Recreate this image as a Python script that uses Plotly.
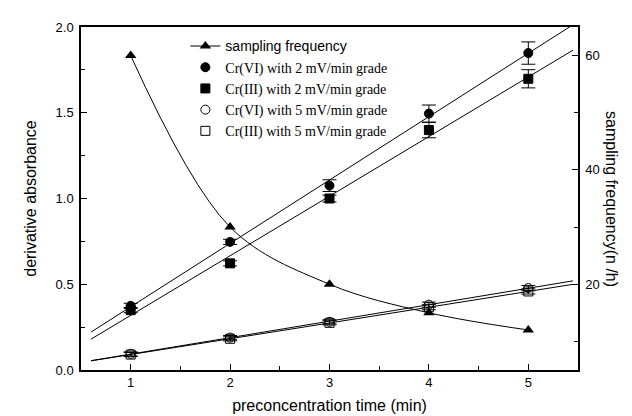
import numpy as np
import plotly.graph_objects as go

# ---- data ----
time_min = [1, 2, 3, 4, 5]
sampling_freq = [60, 30, 20, 15, 12]

cr6_2mv = [0.374, 0.747, 1.075, 1.495, 1.848]
cr6_2mv_err = [0.015, 0.015, 0.034, 0.05, 0.065]
cr3_2mv = [0.349, 0.622, 1.000, 1.399, 1.698]
cr3_2mv_err = [0.015, 0.015, 0.02, 0.045, 0.053]
cr6_5mv = [0.094, 0.189, 0.281, 0.381, 0.478]
cr6_5mv_err = [0.012, 0.012, 0.012, 0.015, 0.015]
cr3_5mv = [0.090, 0.182, 0.275, 0.366, 0.458]
cr3_5mv_err = [0.012, 0.012, 0.012, 0.015, 0.015]

x_ticks = [1, 2, 3, 4, 5]
fit_x_range = [0.6, 5.45]

SERIF = "Liberation Serif, Times New Roman, serif"
SANS = "Liberation Sans, Arial, sans-serif"

fig = go.Figure()

# linear fit lines
fx = np.linspace(fit_x_range[0], fit_x_range[1], 50)
for ys in [cr6_2mv, cr3_2mv, cr6_5mv, cr3_5mv]:
    k, b = np.polyfit(time_min, ys, 1)
    fig.add_trace(go.Scatter(x=fx, y=k * fx + b, mode="lines",
                             line=dict(color="black", width=1),
                             showlegend=False, hoverinfo="skip"))

# sampling frequency on right axis
fig.add_trace(go.Scatter(
    x=time_min, y=sampling_freq, yaxis="y2", mode="lines+markers",
    line=dict(color="black", width=1, shape="spline"),
    marker=dict(symbol="triangle-up", size=10, color="black"),
    name='<span style="font-family:Liberation Sans, Arial">sampling frequency</span>'))

def pts(ys, err, symbol, name):
    fig.add_trace(go.Scatter(
        x=time_min, y=ys, mode="markers",
        marker=dict(symbol=symbol, size=9, color="black",
                    line=dict(color="black", width=1)),
        error_y=dict(type="data", array=err, visible=True,
                     color="black", thickness=1, width=7),
        name=name))

pts(cr6_2mv, cr6_2mv_err, "circle", "Cr(VI) with 2 mV/min grade")
pts(cr3_2mv, cr3_2mv_err, "square", "Cr(III) with 2 mV/min grade")
pts(cr6_5mv, cr6_5mv_err, "circle-open", "Cr(VI) with 5 mV/min grade")
pts(cr3_5mv, cr3_5mv_err, "square-open", "Cr(III) with 5 mV/min grade")

axis_common = dict(showgrid=False, zeroline=False, showline=True,
                   linecolor="black", linewidth=1.5, ticks="inside",
                   ticklen=6, tickwidth=1.2, tickcolor="black",
                   tickfont=dict(family=SANS, size=13, color="black"))

fig.update_layout(
    width=632, height=416,
    margin=dict(l=73, r=62, t=16, b=54),
    paper_bgcolor="white", plot_bgcolor="white",
    font=dict(family=SERIF, size=14, color="black"),
    xaxis=dict(range=[0.5, 5.5], tickvals=x_ticks, mirror=True,
               minor=dict(dtick=0.5, ticks="inside", ticklen=4,
                          tickcolor="black", tickwidth=1.2),
               title=dict(text="preconcentration time (min)",
                          font=dict(family=SANS, size=16), standoff=10),
               **axis_common),
    yaxis=dict(range=[0, 2], dtick=0.5, tickformat=".1f",
               ticklabelstandoff=3,
               minor=dict(dtick=0.25, ticks="inside", ticklen=4,
                          tickcolor="black", tickwidth=1.2),
               title=dict(text="derivative absorbance",
                          font=dict(family=SANS, size=16), standoff=15),
               **axis_common),
    yaxis2=dict(range=[5, 65], overlaying="y", side="right",
                tick0=0, dtick=20, ticklabelstandoff=3,
                minor=dict(dtick=10, ticks="inside", ticklen=4,
                           tickcolor="black", tickwidth=1.2),
                **axis_common),
    legend=dict(x=0.21, y=0.99, xanchor="left", yanchor="top",
                bgcolor="rgba(0,0,0,0)", font=dict(family=SERIF, size=14),
                tracegroupgap=0, itemwidth=30),
    showlegend=True,
)

fig.add_annotation(text="sampling frequency(n /h)", xref="paper", yref="paper",
                   x=1.0, y=0.5, xshift=44, textangle=90, showarrow=False,
                   font=dict(family=SANS, size=16, color="black"))

fig.write_html("out.html")
